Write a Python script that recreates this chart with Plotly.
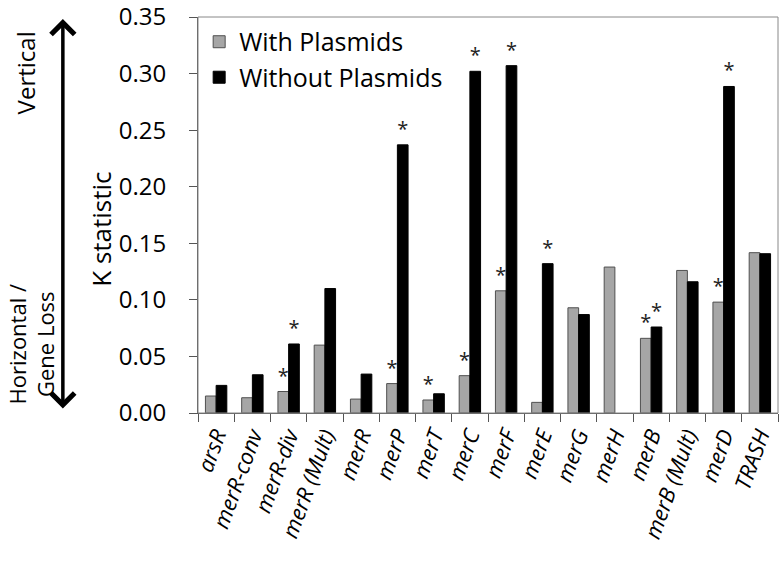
import plotly.graph_objects as go

# categories and values
genes = ["arsR", "merR-conv", "merR-div", "merR (Mult)", "merR", "merP", "merT",
         "merC", "merF", "merE", "merG", "merH", "merB", "merB (Mult)", "merD", "TRASH"]
with_plasmids = [0.015, 0.0135, 0.019, 0.060, 0.0123, 0.026, 0.0115,
                 0.033, 0.108, 0.0094, 0.093, 0.129, 0.066, 0.126, 0.098, 0.1417]
without_plasmids = [0.0244, 0.0338, 0.061, 0.110, 0.0344, 0.237, 0.017,
                    0.302, 0.307, 0.132, 0.087, None, 0.076, 0.116, 0.2886, 0.1408]
# significance flags (asterisks)
sig_with = [0, 0, 1, 0, 0, 1, 1, 1, 1, 0, 0, 0, 1, 0, 1, 0]
sig_without = [0, 0, 1, 0, 0, 1, 0, 1, 1, 1, 0, 0, 1, 0, 1, 0]
y_ticks = [0.0, 0.05, 0.10, 0.15, 0.20, 0.25, 0.30, 0.35]

font_fam = "Open Sans"

fig = go.Figure()
fig.add_trace(go.Bar(
    x=genes, y=with_plasmids, name="With Plasmids",
    marker=dict(color="#a6a6a6", line=dict(color="#505050", width=1)),
    text=["*" if s else "" for s in sig_with], textposition="outside",
    constraintext="none", cliponaxis=False,
    textfont=dict(size=20, color="#222222", family=font_fam),
))
fig.add_trace(go.Bar(
    x=genes, y=without_plasmids, name="Without Plasmids",
    marker=dict(color="#000000", line=dict(color="#000000", width=1)),
    text=["*" if s else "" for s in sig_without], textposition="outside",
    constraintext="none", cliponaxis=False,
    textfont=dict(size=20, color="#222222", family=font_fam),
))

fig.update_layout(
    width=783, height=562,
    margin=dict(l=198, r=5, t=17, b=149),
    paper_bgcolor="white", plot_bgcolor="white",
    font=dict(family=font_fam, size=20, color="#000000"),
    barmode="group", bargap=0.41, bargroupgap=0,
    showlegend=True,
    legend=dict(x=0.002, y=0.995, xanchor="left", yanchor="top",
                font=dict(size=25), bgcolor="rgba(0,0,0,0)",
                tracegroupgap=0, itemwidth=30),
)

fig.update_xaxes(
    type="category", tickson="boundaries", ticks="outside", ticklen=8,
    tickcolor="#555555", showline=True, linecolor="#555555", linewidth=1,
    tickangle=-70, tickfont=dict(size=22, style="italic"), showgrid=False,
    automargin=False,
)
fig.update_yaxes(
    range=[0, 0.35], tickvals=y_ticks, tickformat=".2f", ticks="outside", ticklen=8,
    tickcolor="#555555", showline=True, linecolor="#555555", linewidth=1,
    showgrid=False, zeroline=False, tickfont=dict(size=24),
    ticklabelstandoff=18, ticklabeloverflow="allow", automargin=False,
)

# gray frame on top/right
fig.add_shape(type="rect", xref="paper", yref="paper", x0=0, x1=1, y0=0, y1=1,
              line=dict(color="#888888", width=1), layer="above")

# y-axis title
fig.add_annotation(xref="paper", yref="paper", x=-0.167, y=0.463,
                   text="K statistic", textangle=-90, showarrow=False,
                   font=dict(size=26), xanchor="center", yanchor="middle")

# double-headed arrow on the left
fig.add_annotation(xref="paper", yref="paper", x=-0.233, y=0.995,
                   axref="pixel", ayref="pixel", ax=0, ay=391,
                   showarrow=True, arrowhead=4, startarrowhead=4,
                   arrowside="end+start", arrowsize=1.3, startarrowsize=1.3,
                   arrowwidth=3.5, arrowcolor="#000000", text="")
fig.add_annotation(xref="paper", yref="paper", x=-0.298, y=0.858,
                   text="Vertical", textangle=-90, showarrow=False,
                   font=dict(size=24), xanchor="center", yanchor="middle")
fig.add_annotation(xref="paper", yref="paper", x=-0.287, y=0.172,
                   text="Horizontal /<br>Gene Loss", textangle=-90, showarrow=False,
                   font=dict(size=22), xanchor="center", yanchor="middle")

# drop the default page margin so the figure sits at the window origin
fig.write_html("out.html", config={"displayModeBar": False},
               post_script="document.body.style.margin='0';")
